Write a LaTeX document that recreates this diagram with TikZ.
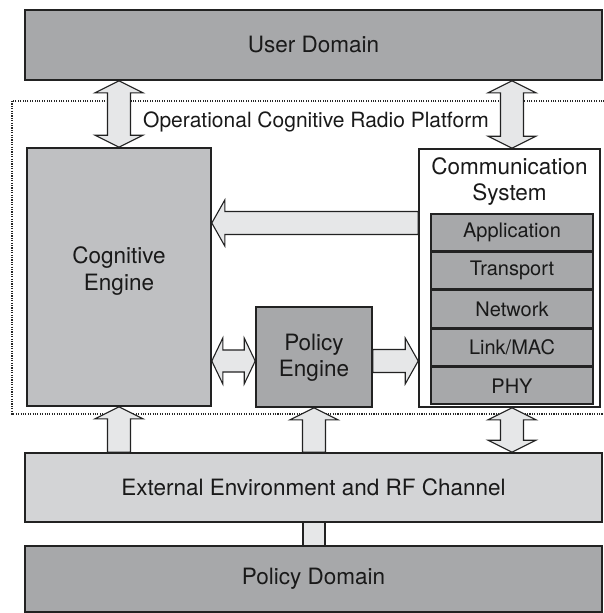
\documentclass[tikz,border=0pt]{standalone}
\usepackage{fontspec}
\setmainfont{TeX Gyre Heros}
\usetikzlibrary{calc}
\pgfdeclarelayer{back}
\pgfdeclarelayer{arrows}
\pgfsetlayers{back,arrows,main}
\definecolor{domgray}{HTML}{A7A8AA}
\definecolor{cegray}{HTML}{BFC0C2}
\definecolor{eegray}{HTML}{D3D4D6}
\definecolor{arrfill}{HTML}{E6E7E8}
\definecolor{edge}{HTML}{222222}
\tikzset{
  box/.style={draw=edge, line width=1.6pt, rectangle, inner sep=0pt, align=center,
    font=\fontsize{22.5}{27}\selectfont, text=black!90},
  layerbox/.style={box, fill=domgray, minimum width=162pt, minimum height=36.8pt,
    font=\fontsize{20}{23}\selectfont},
  blockarrow/.style={draw=edge, line width=1.1pt, fill=arrfill, line join=miter},
}
% vertical double arrow, tips at #1 (top) and #2 (bottom)
\newcommand\vdarrow[2]{%
  \draw[blockarrow] let \p1=(#1), \p2=(#2) in
    (\x1,\y1) -- ({\x1+24pt},{\y1-12pt}) -- ({\x1+11.5pt},{\y1-12pt})
    -- ({\x1+11.5pt},{\y2+12pt}) -- ({\x1+24pt},{\y2+12pt}) -- (\x1,\y2)
    -- ({\x1-24pt},{\y2+12pt}) -- ({\x1-11.5pt},{\y2+12pt})
    -- ({\x1-11.5pt},{\y1-12pt}) -- ({\x1-24pt},{\y1-12pt}) -- cycle;}
% vertical single arrow, tail at #1 (bottom), tip at #2 (top)
\newcommand\vuarrow[2]{%
  \draw[blockarrow] let \p1=(#1), \p2=(#2) in
    ({\x1-11.5pt},\y1) -- ({\x1-11.5pt},{\y2-12pt}) -- ({\x1-24pt},{\y2-12pt})
    -- (\x1,\y2) -- ({\x1+24pt},{\y2-12pt}) -- ({\x1+11.5pt},{\y2-12pt})
    -- ({\x1+11.5pt},\y1) -- cycle;}
% horizontal double arrow, tips at #1 (left) and #2 (right)
\newcommand\hdarrow[2]{%
  \draw[blockarrow] let \p1=(#1), \p2=(#2) in
    (\x1,\y1) -- ({\x1+11pt},{\y1+23pt}) -- ({\x1+11pt},{\y1+11pt})
    -- ({\x2-11pt},{\y1+11pt}) -- ({\x2-11pt},{\y1+23pt}) -- (\x2,\y1)
    -- ({\x2-11pt},{\y1-23pt}) -- ({\x2-11pt},{\y1-11pt})
    -- ({\x1+11pt},{\y1-11pt}) -- ({\x1+11pt},{\y1-23pt}) -- cycle;}
% horizontal single arrow, tail at #1, tip at #2 (either direction)
\newcommand\harrow[3]{% #3 = +1 (pointing right) or -1 (pointing left)
  \draw[blockarrow] let \p1=(#1), \p2=(#2) in
    (\x1,{\y1+11.5pt}) -- ({\x2-#3*13pt},{\y1+11.5pt}) -- ({\x2-#3*13pt},{\y1+23pt})
    -- (\x2,\y1) -- ({\x2-#3*13pt},{\y1-23pt}) -- ({\x2-#3*13pt},{\y1-11.5pt})
    -- (\x1,{\y1-11.5pt}) -- cycle;}

\begin{document}
\begin{tikzpicture}[x=1pt,y=-1pt]
\useasboundingbox (0,0) rectangle (603,613);

% main boxes
\node[box, fill=domgray, minimum width=577pt, minimum height=70pt] (ud) at (313.5,45) {User Domain};
\node[box, fill=cegray, minimum width=184pt, minimum height=258pt] (ce) at (119,277) {};
\node[align=center, inner sep=0pt, font=\fontsize{22.5}{27}\selectfont, text=black!90] (cetext) at (119,271) {Cognitive\\Engine};
\node[box, fill=white, minimum width=181pt, minimum height=258pt] (cs) at (509.5,278) {};
\node[align=center, inner sep=0pt, font=\fontsize{22.5}{26}\selectfont, text=black!90, anchor=north] (cstitle) at (509.5,157) {Communication\\System};
\node[layerbox, anchor=north] (app) at (512,213) {Application};
\node[layerbox, anchor=north] (trn) at (app.south) {Transport};
\node[layerbox, anchor=north] (net) at (trn.south) {Network};
\node[layerbox, anchor=north] (lnk) at (net.south) {Link/MAC};
\node[layerbox, anchor=north] (phy) at (lnk.south) {PHY};
\node[box, fill=domgray, minimum width=116pt, minimum height=100pt] (pe) at (314,357) {};
\node[align=center, inner sep=0pt, font=\fontsize{22.5}{26}\selectfont, text=black!90] (petext) at (314,358) {Policy\\Engine};
\node[box, fill=eegray, minimum width=577pt, minimum height=69pt] (ee) at (313.5,487.5) {External Environment and RF Channel};
\node[box, fill=domgray, minimum width=577pt, minimum height=66pt] (pd) at (313.5,579) {Policy Domain};

% platform frame
\begin{pgfonlayer}{back}
  \draw[line width=1.3pt, dash pattern=on 1.1pt off 1.3pt, draw=black!85] (12,101) rectangle (606,414);
\end{pgfonlayer}
\node[inner sep=0pt, font=\fontsize{21}{25}\selectfont, text=black!90] (platform) at (316,122) {Operational Cognitive Radio Platform};

\coordinate (bigy) at (0,223);
\coordinate (midy) at (0,361);

\begin{pgfonlayer}{arrows}
  \vdarrow{ud.south -| ce.north}{ce.north}
  \vdarrow{ud.south -| app.north}{cs.north -| app.north}
  \harrow{cs.west |- bigy}{ce.east |- bigy}{-1}
  \hdarrow{ce.east |- midy}{pe.west |- midy}
  \harrow{pe.east |- midy}{cs.west |- midy}{1}
  \vuarrow{ee.north -| ce.south}{ce.south}
  \vuarrow{ee.north -| pe.south}{pe.south}
  \vdarrow{cs.south -| phy.south}{ee.north -| phy.south}
  \draw[blockarrow] let \p1=(ee.south -| pe.south), \p2=(pd.north) in
    ({\x1-11pt},\y1) rectangle ({\x1+11pt},\y2);
\end{pgfonlayer}
\end{tikzpicture}
\end{document}
